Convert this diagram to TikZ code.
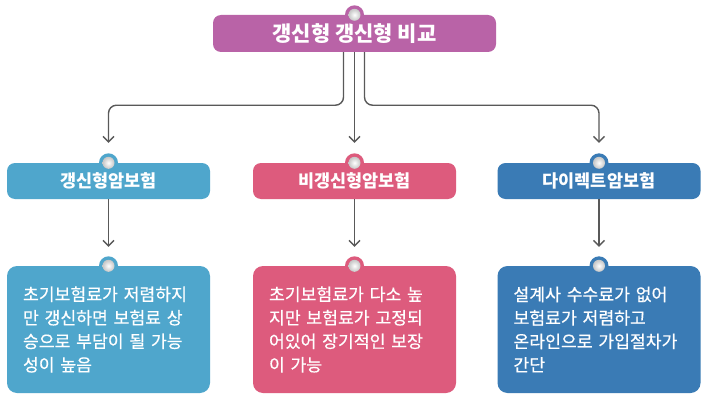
\documentclass[tikz,border=0pt]{standalone}
\usepackage{fontspec}
\usepackage{xcolor}
\usepackage{tikz}
\usetikzlibrary{arrows.meta}
\newfontfamily\krfont{Noto Sans CJK KR}
\newfontfamily\krbody[FakeBold=0.5]{Noto Sans CJK KR}
\definecolor{topcol}{HTML}{B963A7}
\definecolor{lcol}{HTML}{4FA6CC}
\definecolor{mcol}{HTML}{DD5B7D}
\definecolor{rcol}{HTML}{3A7BB5}
\definecolor{linecol}{HTML}{595959}
\tikzstyle{title}=[rectangle,rounded corners=8pt,fill=topcol,text=white,minimum width=283pt,minimum height=37pt,font=\krfont\bfseries\fontsize{21}{24}\selectfont]
\tikzstyle{kind}=[rectangle,rounded corners=8pt,text=white,minimum width=203pt,minimum height=36pt,font=\krfont\bfseries\fontsize{17.5}{20}\selectfont]
\tikzstyle{note}=[rectangle,rounded corners=10pt,text=white,text width=171pt,inner xsep=16pt,minimum height=127pt,align=left,font=\krbody\fontsize{17.2}{23.5}\selectfont]
\tikzstyle{link}=[draw=linecol,line width=1.4pt,rounded corners=8pt,-{Straight Barb[length=5.5pt,width=11pt]}]

\begin{document}
\begin{tikzpicture}[x=1pt,y=-1pt]
        \useasboundingbox (0,0) rectangle (707,404);
        \fill[white] (0,0) rectangle (707,404);

        \node at (354.5,33.5) [title]        (top) {갱신형 갱신형 비교};
        \node at (108.5,181)  [kind,fill=lcol] (gA) {갱신형암보험};
        \node at (354.5,181)  [kind,fill=mcol] (gB) {비갱신형암보험};
        \node at (599,181)    [kind,fill=rcol] (gC) {다이렉트암보험};
        \node at (108.5,329.5) [note,fill=lcol] (dA) {초기보험료가 저렴하지\\만 갱신하면 보험료 상\\승으로 부담이 될 가능\\성이 높음};
        \node at (354.5,329.5) [note,fill=mcol] (dB) {초기보험료가 다소 높\\지만 보험료가 고정되\\어있어 장기적인 보장\\이 가능};
        \node at (599,329.5)  [note,fill=rcol] (dC) {설계사 수수료가 없어\\보험료가 저렴하고\\온라인으로 가입절차가\\간단};

        \draw [link] ([xshift=-11pt]top.south) -- ++(0,53) -| ([yshift=20pt]gA.north);
        \draw [link] (top.south) -- ([yshift=20pt]gB.north);
        \draw [link] ([xshift=10pt]top.south) -- ++(0,53) -| ([yshift=20pt]gC.north);
        \draw [link] (gA) -- ([yshift=19pt]dA.north);
        \draw [link] (gB) -- ([yshift=19pt]dB.north);
        \draw [link] (gC) -- ([yshift=19pt]dC.north);

        % knobs on the top edges
        \foreach \n/\c in {top/topcol,gA/lcol,gB/mcol,gC/rcol,dA/lcol,dB/mcol,dC/rcol} {
          \fill [\c] (\n.north) circle (9.5pt);
          \shade [inner color=white,outer color=gray!45] (\n.north) circle (6pt);
        }
      \end{tikzpicture}
\end{document}
